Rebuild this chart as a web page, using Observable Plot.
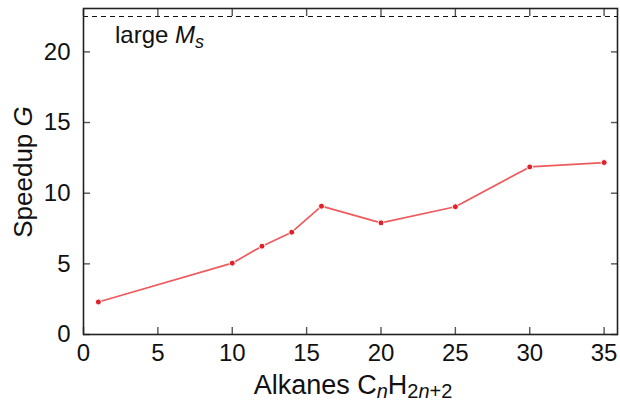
<!DOCTYPE html>
<html><head><meta charset="utf-8">
<script src="https://cdn.jsdelivr.net/npm/d3@7"></script>
<script src="https://cdn.jsdelivr.net/npm/@observablehq/plot@0.6"></script>
<style>
html,body{margin:0;padding:0;background:#fff;}
svg{display:block;}
</style>
</head><body>
<div id="chart"></div>
<script>
const nCarbon = [1, 10, 12, 14, 16, 20, 25, 30, 35];
const speedup = [2.3, 5.05, 6.25, 7.24, 9.08, 7.9, 9.04, 11.86, 12.17];
const xTicks = [0, 5, 10, 15, 20, 25, 30, 35];
const yTicks = [0, 5, 10, 15, 20];
const largeMsLimit = [22.5];

const data = nCarbon.map((n, i) => ({n, g: speedup[i]}));
const font = "'Liberation Sans', Arial, sans-serif";
const tickColor = "#555";

const chart = Plot.plot({
  width: 620, height: 402,
  marginLeft: 83, marginRight: 3, marginTop: 8, marginBottom: 68,
  style: {fontFamily: font, fontSize: "24px", color: "#111", background: "#fff"},
  x: {domain: [0, 35.9]},
  y: {domain: [0, 23.07]},
  marks: [
    Plot.axisX(xTicks, {anchor: "bottom", tickSize: -7, tickPadding: 16, label: null, fontSize: 24, stroke: tickColor, strokeWidth: 1.4, fill: "#111"}),
    Plot.axisX(xTicks, {anchor: "top", tickSize: -7, text: null, label: null, stroke: tickColor, strokeWidth: 1.4}),
    Plot.axisY(yTicks, {anchor: "left", tickSize: -7, tickPadding: 20, label: null, fontSize: 24, stroke: tickColor, strokeWidth: 1.4, fill: "#111"}),
    Plot.axisY(yTicks, {anchor: "right", tickSize: -7, text: null, label: null, stroke: tickColor, strokeWidth: 1.4}),
    Plot.ruleY(largeMsLimit, {stroke: "#111", strokeWidth: 1.1, strokeDasharray: "5,4"}),
    Plot.line(data, {x: "n", y: "g", stroke: "#ef5a5e", strokeWidth: 1.7}),
    Plot.dot(data, {x: "n", y: "g", r: 3, fill: "#e3202a", stroke: "#fff", strokeWidth: 1}),
    Plot.frame({stroke: "#222", strokeWidth: 1.6})
  ]
});
document.getElementById("chart").append(chart);

const svg = d3.select(chart);
// x label
const xl = svg.append("text")
  .attr("x", 353).attr("y", 394)
  .attr("text-anchor", "middle")
  .style("font-family", font).style("font-size", "27px").attr("fill", "#111");
xl.append("tspan").text("Alkanes C");
xl.append("tspan").text("n").style("font-style", "italic").style("font-size", "20px").attr("dy", 4);
xl.append("tspan").text("H").attr("dy", -4);
xl.append("tspan").text("2").style("font-size", "20px").attr("dy", 4);
xl.append("tspan").text("n").style("font-style", "italic").style("font-size", "20px");
xl.append("tspan").text("+2").style("font-size", "20px");

// y label
const yl = svg.append("text")
  .attr("transform", "translate(32,172) rotate(-90)")
  .attr("text-anchor", "middle")
  .style("font-family", font).style("font-size", "26px").attr("fill", "#111");
yl.append("tspan").text("Speedup ");
yl.append("tspan").text("G").style("font-style", "italic");

// annotation
const an = svg.append("text")
  .attr("x", 115).attr("y", 43)
  .attr("text-anchor", "start")
  .style("font-family", font).style("font-size", "24px").attr("fill", "#111");
an.append("tspan").text("large ");
an.append("tspan").text("M").style("font-style", "italic");
an.append("tspan").text("s").style("font-style", "italic").style("font-size", "18px").attr("dy", 5);
</script>
</body></html>
